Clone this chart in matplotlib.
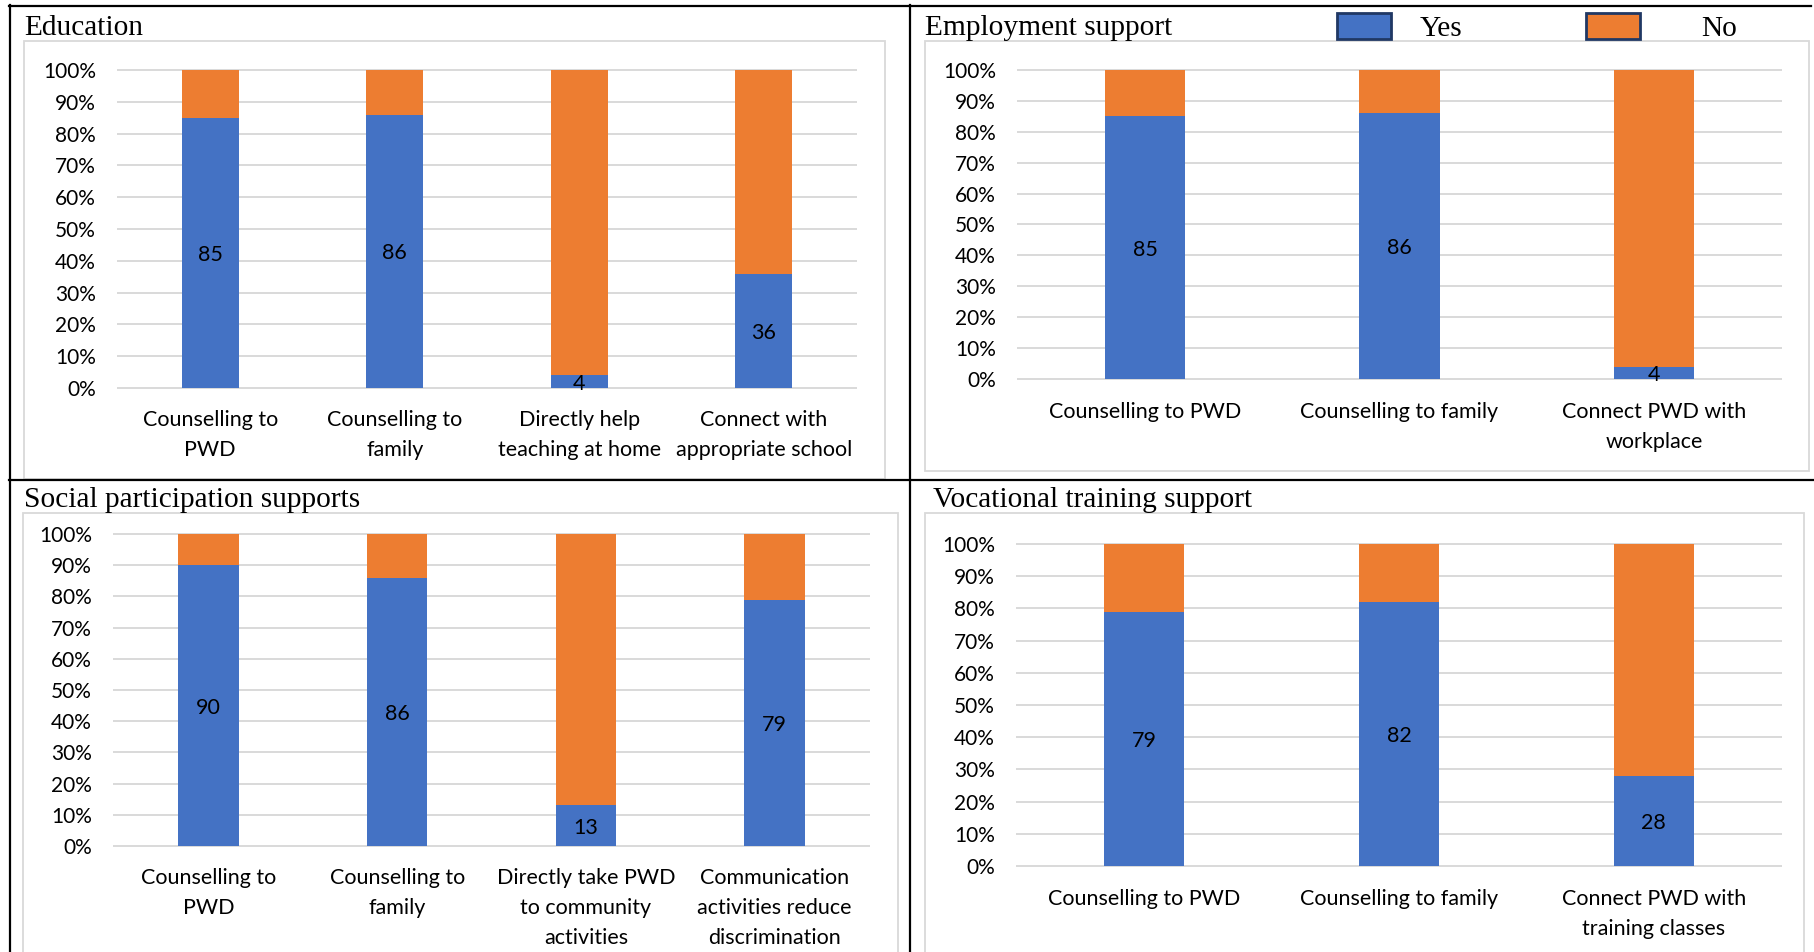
import numpy as np
import matplotlib
matplotlib.use("Agg")
import matplotlib.pyplot as plt
from matplotlib.patches import Rectangle, Patch
from matplotlib.lines import Line2D

# ---- data -------------------------------------------------------------
edu_cats = ["Counselling to\nPWD", "Counselling to\nfamily",
            "Directly help\nteaching at home", "Connect with\nappropriate school"]
edu_yes = [85, 86, 4, 36]

emp_cats = ["Counselling to PWD", "Counselling to family", "Connect PWD with\nworkplace"]
emp_yes = [85, 86, 4]

soc_cats = ["Counselling to\nPWD", "Counselling to\nfamily",
            "Directly take PWD\nto community\nactivities",
            "Communication\nactivities reduce\ndiscrimination"]
soc_yes = [90, 86, 13, 79]

voc_cats = ["Counselling to PWD", "Counselling to family", "Connect PWD with\ntraining classes"]
voc_yes = [79, 82, 28]

series_names = ["Yes", "No"]
y_ticks = list(range(0, 101, 10))

# ---- style ------------------------------------------------------------
W, H, DPI = 1814, 952, 100
BLUE = "#4472C4"
ORANGE = "#ED7D31"
GRID = "#D9D9D9"
NAVY = "#203864"
SANS = "Lato"
SERIF = "Liberation Serif"
TITLE_SIZE = 21.2

fig = plt.figure(figsize=(W / DPI, H / DPI), dpi=DPI)
fig.patch.set_facecolor("white")


def px_rect(l, t, r, b):
    return [l / W, 1 - b / H, (r - l) / W, (b - t) / H]


def frame(l, t, r, b):
    fig.add_artist(Rectangle((l / W, 1 - b / H), (r - l) / W, (b - t) / H,
                             transform=fig.transFigure, fill=False,
                             ec=GRID, lw=1.3, zorder=0))


def hline(y, x0, x1):
    fig.add_artist(Line2D([x0 / W, x1 / W], [1 - y / H, 1 - y / H],
                          transform=fig.transFigure, color="black", lw=1.6))


def vline(x, y0, y1):
    fig.add_artist(Line2D([x / W, x / W], [1 - y0 / H, 1 - y1 / H],
                          transform=fig.transFigure, color="black", lw=1.6))


def panel(rect, cats, yes, width, xpad, linespacing=1.63):
    ax = fig.add_axes(px_rect(*rect))
    ax.patch.set_alpha(0)
    x = np.arange(len(cats))
    no = [100 - v for v in yes]
    ax.bar(x, yes, width, color=BLUE, zorder=2, label=series_names[0])
    ax.bar(x, no, width, bottom=yes, color=ORANGE, zorder=2, label=series_names[1])
    for xi, v in zip(x, yes):
        ax.text(xi, v / 2, str(v), ha="center", va="center_baseline", fontsize=15.5,
                family=SANS, color="black", zorder=3)
    ax.set_xlim(-0.5, len(cats) - 0.5)
    ax.set_ylim(0, 100)
    ax.set_yticks(y_ticks, [f"{t}%" for t in y_ticks])
    ax.set_xticks(x, cats)
    for lab in ax.get_yticklabels():
        lab.set_family(SANS)
        lab.set_fontsize(15)
    for lab in ax.get_xticklabels():
        lab.set_family(SANS)
        lab.set_fontsize(15.5)
        lab.set_linespacing(linespacing)
    ax.yaxis.grid(True, color=GRID, lw=1.4, zorder=0)
    for gl in ax.get_ygridlines():
        gl.set_clip_on(False)
    ax.set_axisbelow(True)
    for s in ax.spines.values():
        s.set_visible(False)
    ax.tick_params(axis="y", length=0, pad=16)
    ax.tick_params(axis="x", length=0, pad=xpad)
    return ax


# chart frames
frame(24, 41, 885, 479)
frame(925, 41, 1809, 471)
frame(23, 513, 898, 960)
frame(925, 513, 1804, 960)

# panels
panel((118, 70, 856, 388), edu_cats, edu_yes, 0.31, 15.7)
panel((1018, 70, 1781, 379), emp_cats, emp_yes, 0.315, 16.8)
panel((114, 534, 869, 846), soc_cats, soc_yes, 0.32, 15.7)
panel((1017, 544, 1781, 866), voc_cats, voc_yes, 0.315, 16.8)

# panel titles
title_kw = dict(family=SERIF, fontsize=TITLE_SIZE, va="baseline", ha="left", color="black")
fig.text(24 / W, 1 - 35 / H, "Education", **title_kw)
fig.text(925 / W, 1 - 35 / H, "Employment support", **title_kw)
fig.text(24 / W, 1 - 507 / H, "Social participation supports", **title_kw)
fig.text(933 / W, 1 - 507 / H, "Vocational training support", **title_kw)

# shared legend, one entry per series
legend_colors = [BLUE, ORANGE]
legend_left = [1337, 1586]
legend_textpad = [1.0, 2.08]
for name, color, left, tpad in zip(series_names, legend_colors, legend_left, legend_textpad):
    lg = fig.legend([Patch(facecolor=color, edgecolor=NAVY, lw=2)], [name],
                    loc="upper left", bbox_to_anchor=(left / W, 1 - 13 / H),
                    frameon=False, prop={"family": SERIF, "size": TITLE_SIZE},
                    handlelength=1.82, handleheight=1.0, handletextpad=tpad,
                    borderpad=0, borderaxespad=0)

# outer and dividing rules
hline(6, 9, 1811)
hline(480, 9, 1814)
vline(10, 5, 952)
vline(910, 5, 952)

fig.savefig("out.png", dpi=DPI, facecolor="white")
